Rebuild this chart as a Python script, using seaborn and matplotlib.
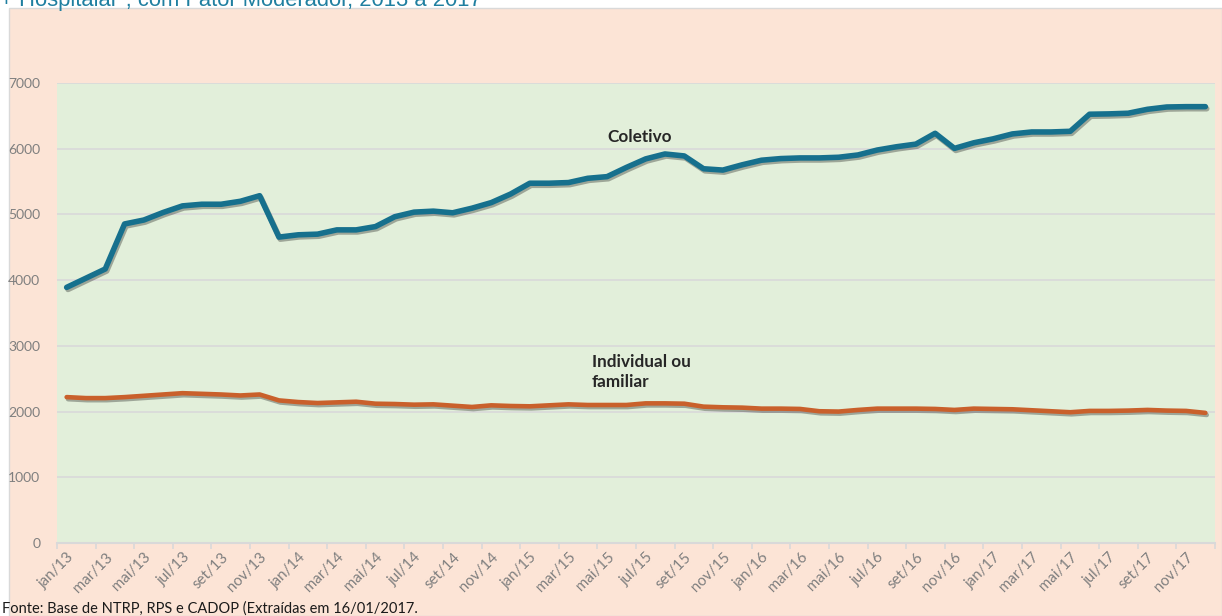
import numpy as np
import pandas as pd
import matplotlib
matplotlib.use('Agg')
import matplotlib.pyplot as plt
import matplotlib.patheffects as pe
from matplotlib.patches import Rectangle
import seaborn as sns


################################################################################
#
# Data
#
################################################################################

meses = ['jan', 'fev', 'mar', 'abr', 'mai', 'jun', 'jul', 'ago', 'set', 'out', 'nov', 'dez']
anos = ['13', '14', '15', '16', '17']
categorias = ['{}/{}'.format(m, a) for a in anos for m in meses]

coletivo = [3890, 4030, 4170, 4855, 4915, 5030, 5130, 5155, 5155, 5200, 5285, 4655,
            4690, 4700, 4765, 4765, 4815, 4965, 5035, 5050, 5025, 5095, 5180, 5310,
            5475, 5475, 5485, 5550, 5575, 5715, 5845, 5920, 5890, 5695, 5675, 5755,
            5825, 5850, 5860, 5860, 5870, 5905, 5980, 6030, 6070, 6235, 6005, 6090,
            6150, 6225, 6255, 6255, 6265, 6525, 6530, 6540, 6600, 6635, 6640, 6640]

individual = [2220, 2205, 2205, 2220, 2240, 2260, 2280, 2270, 2260, 2245, 2260, 2170,
              2145, 2130, 2140, 2150, 2120, 2115, 2105, 2110, 2090, 2070, 2095, 2085,
              2080, 2095, 2110, 2100, 2100, 2100, 2125, 2125, 2120, 2075, 2065, 2060,
              2045, 2045, 2040, 2005, 2000, 2025, 2045, 2045, 2045, 2040, 2025, 2045,
              2040, 2035, 2020, 2005, 1990, 2010, 2010, 2015, 2025, 2015, 2010, 1980]

titulo = '+ Hospitalar", com Fator Moderador, 2013 a 2017'
fonte = 'Fonte: Base de NTRP, RPS e CADOP (Extraídas em 16/01/2017.'

################################################################################
#
# Plot
#
################################################################################

W, H = 1222, 616
fig = plt.figure(figsize=(W / 100, H / 100), dpi=100)
fig.patch.set_facecolor('white')

# outer chart area (behind the axes)
fig.patches.append(Rectangle((9 / W, 0), 1 - 9 / W, (H - 8) / H, transform=fig.transFigure,
                             facecolor='#fce4d6', edgecolor='#d9d9d9', lw=1, zorder=-5))

ax = fig.add_axes([57 / W, (H - 543) / H, 1158 / W, 460 / H])
ax.set_zorder(1)
ax.set_facecolor('#e2efda')

df = pd.DataFrame({'x': np.arange(len(categorias)).tolist() * 2,
                   'valor': coletivo + individual,
                   'serie': ['Coletivo'] * len(coletivo) + ['Individual ou familiar'] * len(individual)})

shadow = [pe.SimpleLineShadow(offset=(1.0, -1.5), shadow_color='black', alpha=0.3), pe.Normal()]
sns.lineplot(data=df[df.serie == 'Coletivo'], x='x', y='valor', color='#16708d', lw=4,
             ax=ax, path_effects=shadow, solid_capstyle='round', zorder=3)
sns.lineplot(data=df[df.serie != 'Coletivo'], x='x', y='valor', color='#c9602b', lw=3.3,
             ax=ax, path_effects=shadow, solid_capstyle='round', zorder=3)

ax.set_xlim(-0.5, len(categorias) - 0.5)
ax.set_ylim(0, 7000)
ax.set_yticks(range(0, 7001, 1000))
ax.grid(axis='y', color='#d9d9d9', lw=1.2)
ax.grid(axis='x', visible=False)
ax.set_axisbelow(True)

for s in ['top', 'right', 'left']:
    ax.spines[s].set_visible(False)
ax.spines['bottom'].set_color('#d9d9d9')
ax.spines['bottom'].set_linewidth(1.5)

ax.set_xticks(np.arange(0, len(categorias), 2))
ax.set_xticklabels(categorias[::2], rotation=45, ha='right', rotation_mode='anchor',
                   color='#7f7f7f', fontsize=10.8, family='Lato')
ax.set_xticks(np.arange(-0.5, len(categorias), 2), minor=True)
ax.tick_params(axis='x', which='major', length=0, pad=5)
ax.tick_params(axis='x', which='minor', length=4, color='#d9d9d9', width=1.2)
ax.tick_params(axis='y', length=0, pad=12, labelcolor='#7f7f7f', labelsize=10)
for t in ax.get_yticklabels():
    t.set_family('Lato')
ax.set_xlabel('')
ax.set_ylabel('')

ax.text(29.7, 6180, 'Coletivo', fontsize=12.3, fontweight='bold', family='Lato',
        color='#262626', ha='center', va='center')
ax.text(27.2, 2880, 'Individual ou\nfamiliar', fontsize=12.3, fontweight='bold', family='Lato',
        color='#262626', ha='left', va='top', linespacing=1.3)

fig.text(0.0, 1 - 6 / H, titulo, fontsize=15.8, color='#1f7fa0', family='Liberation Sans',
         ha='left', va='baseline')
fig.text(2 / W, 3 / H, fonte, fontsize=10.5, color='#1a1a1a', family='Lato',
         ha='left', va='baseline')

fig.savefig('out.png', dpi=100, facecolor=fig.get_facecolor())
